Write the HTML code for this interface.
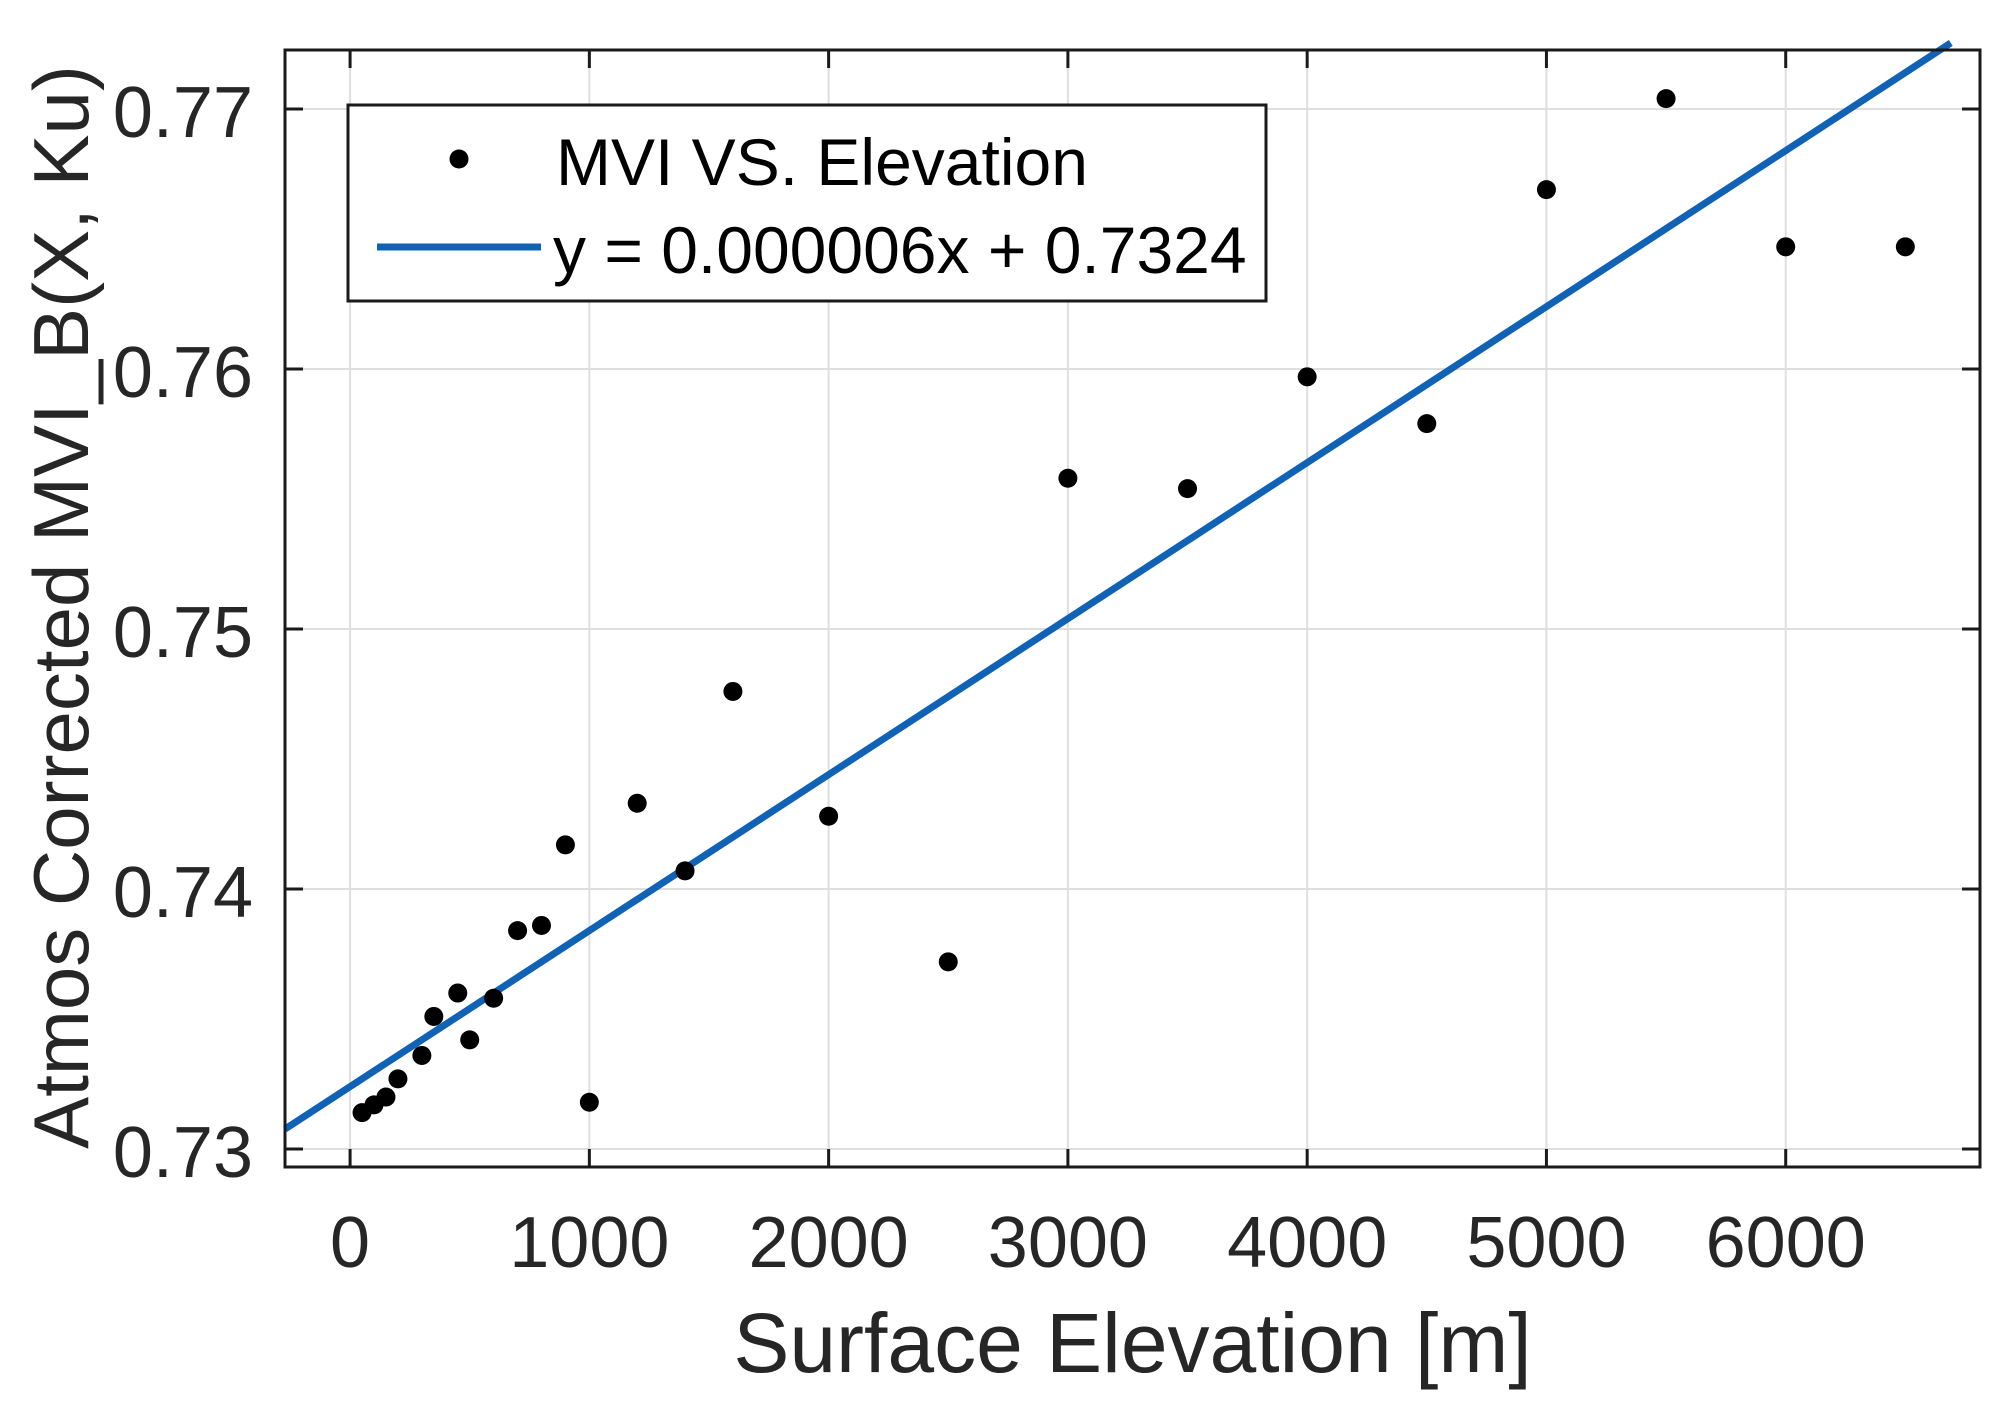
<!DOCTYPE html>
<html><head><meta charset="utf-8"><style>
html,body{margin:0;padding:0;background:#fff;}
svg{display:block;font-family:"Liberation Sans",Arial,sans-serif;}
</style></head><body>
<svg id="chart" width="2016" height="1413" viewBox="0 0 2016 1413" xmlns="http://www.w3.org/2000/svg"></svg>
<script>
const elevations = [50,100,150,200,300,350,450,500,600,700,800,900,1000,1200,1400,1600,2000,2500,3000,3500,4000,4500,5000,5500,6000,6500];
const mviValues = [0.7314,0.7317,0.7320,0.7327,0.7336,0.7351,0.7360,0.7342,0.7358,0.7384,0.7386,0.7417,0.7318,0.7433,0.7407,0.7476,0.7428,0.7372,0.7558,0.7554,0.7597,0.7579,0.7669,0.7704,0.7647,0.7647];
const xTicks = [0,1000,2000,3000,4000,5000,6000];
const yTicks = [0.73,0.74,0.75,0.76,0.77];
const yTickLabels = ["0.73","0.74","0.75","0.76","0.77"];
const fitSlope = 0.000006;
const fitIntercept = 0.7324;
const fitRange = [-272, 6690];

const L=285,R=1980,T=50,B=1167;
const xMin=-272,xMax=6812,yMin=0.72931,yMax=0.77227;
const sx=v=>L+(v-xMin)/(xMax-xMin)*(R-L);
const sy=v=>B-(v-yMin)/(yMax-yMin)*(B-T);
const svg=document.getElementById('chart');
const NS='http://www.w3.org/2000/svg';
function mk(tag,attrs,parent){const e=document.createElementNS(NS,tag);for(const k in attrs)e.setAttribute(k,attrs[k]);(parent||svg).appendChild(e);return e;}

const grid=mk('g',{});


xTicks.forEach(t=>{mk('line',{x1:sx(t),x2:sx(t),y1:T,y2:B,stroke:'#dedede','stroke-width':2},grid);});
yTicks.forEach(t=>{mk('line',{x1:L,x2:R,y1:sy(t),y2:sy(t),stroke:'#dedede','stroke-width':2},grid);});

xTicks.forEach(t=>{
  mk('line',{x1:sx(t),x2:sx(t),y1:B,y2:B-18,stroke:'#1a1a1a','stroke-width':3});
  mk('line',{x1:sx(t),x2:sx(t),y1:T,y2:T+18,stroke:'#1a1a1a','stroke-width':3});
  const tx=mk('text',{x:sx(t),y:1267,'text-anchor':'middle','font-size':72,fill:'#262626'});
  
  
  tx.textContent=t;
});
yTicks.forEach((t,i)=>{
  mk('line',{x1:L,x2:L+18,y1:sy(t),y2:sy(t),stroke:'#1a1a1a','stroke-width':3});
  mk('line',{x1:R,x2:R-18,y1:sy(t),y2:sy(t),stroke:'#1a1a1a','stroke-width':3});
  const tx=mk('text',{x:253,y:sy(t)+28,'text-anchor':'end','font-size':72,fill:'#262626'});
  
  
  tx.textContent=yTickLabels[i];
});

const fit=mk('line',{x1:sx(fitRange[0]),y1:sy(fitIntercept+fitSlope*fitRange[0]),x2:sx(fitRange[1]),y2:sy(fitIntercept+fitSlope*fitRange[1]),stroke:'#0f62b5','stroke-width':7});



elevations.forEach((x,i)=>{
  const c=mk('circle',{cx:sx(x),cy:sy(mviValues[i]),r:9.5,fill:'#000'});
  
  
});

const box=mk('rect',{x:L,y:T,width:R-L,height:B-T,fill:'none',stroke:'#1a1a1a','stroke-width':3});



const lg=mk('g',{});


mk('rect',{x:348,y:105,width:918,height:196,fill:'#fff',stroke:'#1a1a1a','stroke-width':3},lg);
mk('circle',{cx:459,cy:159,r:9.5,fill:'#000'},lg);
const t1=mk('text',{x:556,y:185,'font-size':66,fill:'#000'},lg);


t1.textContent='MVI VS. Elevation';
mk('line',{x1:377,x2:541,y1:247,y2:247,stroke:'#0f62b5','stroke-width':7},lg);
const t2=mk('text',{x:553,y:273,'font-size':66,fill:'#000'},lg);


t2.textContent='y = 0.000006x + 0.7324';

const xt=mk('text',{x:(L+R)/2,y:1372,'text-anchor':'middle','font-size':84,fill:'#262626'});


xt.textContent='Surface Elevation [m]';
const yt=mk('text',{x:0,y:0,'text-anchor':'middle','font-size':78,fill:'#262626',transform:'translate(88,607) rotate(-90)'});


yt.textContent='Atmos Corrected MVI_B(X, Ku)';
</script>
</body></html>
